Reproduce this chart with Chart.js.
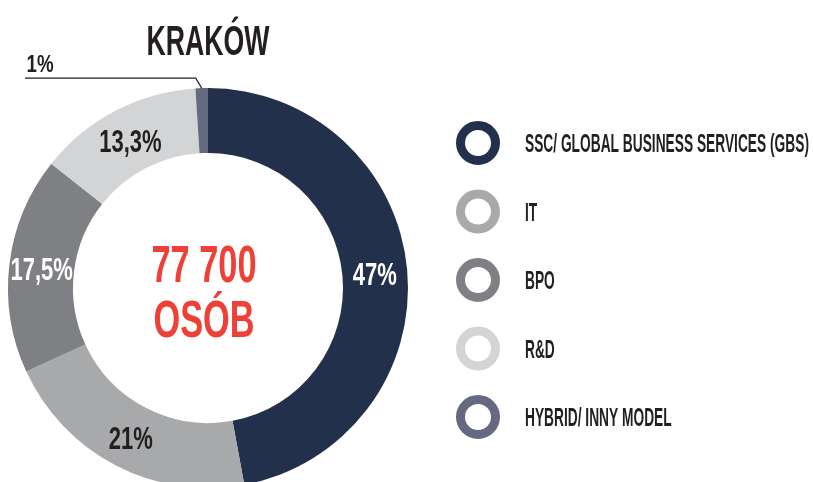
<!DOCTYPE html>
<html>
<head>
<meta charset="utf-8">
<script src="https://cdn.jsdelivr.net/npm/chart.js@4.4.1/dist/chart.umd.min.js"></script>
<style>
  html, body { margin: 0; padding: 0; background: #ffffff; overflow: hidden; }
  #wrap { width: 813px; height: 500px; }
</style>
</head>
<body>
<div id="wrap"><canvas id="c" width="813" height="500"></canvas></div>
<script>
const title = 'KRAKÓW';
const centerLines = ['77 700', 'OSÓB'];
const categories = ['SSC/ GLOBAL BUSINESS SERVICES (GBS)', 'IT', 'BPO', 'R&D', 'HYBRID/ INNY MODEL'];
const shares = [47, 21, 17.5, 13.3, 1];
const shareLabels = ['47%', '21%', '17,5%', '13,3%', '1%'];
const sliceColors = ['#22304c', '#a7a9ab', '#7f8084', '#d3d4d6', '#666a80'];
const labelColors = ['#ffffff', '#231f20', '#ffffff', '#231f20', '#231f20'];

const FONT = "'Liberation Sans Narrow', 'Liberation Sans', sans-serif";
const DARK = '#231f20';
const RED = '#ee4036';

function condText(ctx, text, x, y, size, color, align, sx) {
  ctx.save();
  ctx.font = 'bold ' + size + 'px ' + FONT;
  ctx.fillStyle = color;
  ctx.textAlign = align;
  ctx.textBaseline = 'alphabetic';
  ctx.translate(x, y);
  ctx.scale(sx, 1);
  ctx.fillText(text, 0, 0);
  ctx.restore();
}

const decor = {
  id: 'decor',
  afterDraw(chart) {
    const ctx = chart.ctx;
    const meta = chart.getDatasetMeta(0);
    const arcs = meta.data;
    const cx = arcs[0].x, cy = arcs[0].y;

    // title
    condText(ctx, title, cx, 55, 43, DARK, 'center', 0.62);

    // center text
    condText(ctx, centerLines[0], cx - 4, 282, 52, RED, 'center', 0.66);
    condText(ctx, centerLines[1], cx - 4, 337, 52, RED, 'center', 0.66);

    // slice labels
    arcs.forEach((arc, i) => {
      const p = arc.getProps(['startAngle', 'endAngle', 'innerRadius', 'outerRadius'], true);
      const mid = (p.startAngle + p.endAngle) / 2;
      if (i === arcs.length - 1) {
        // small slice: leader line
        const ox = cx + Math.cos(mid) * p.outerRadius;
        const oy = cy + Math.sin(mid) * p.outerRadius;
        ctx.save();
        ctx.strokeStyle = DARK;
        ctx.lineWidth = 1.2;
        ctx.beginPath();
        ctx.moveTo(ox, oy);
        ctx.lineTo(ox - 6, oy - 10);
        ctx.lineTo(25, oy - 10);
        ctx.stroke();
        ctx.restore();
        condText(ctx, shareLabels[i], 40, 72, 24, labelColors[i], 'center', 0.78);
        return;
      }
      const r = (p.innerRadius + p.outerRadius) / 2;
      const x = cx + Math.cos(mid) * r;
      const y = cy + Math.sin(mid) * r;
      condText(ctx, shareLabels[i], x, y + 12, 31, labelColors[i], 'center', 0.71);
    });

    // legend
    categories.forEach((name, i) => {
      const ly = 143 + i * 68.5;
      ctx.save();
      ctx.beginPath();
      ctx.arc(478, ly, 17.5, 0, Math.PI * 2);
      ctx.strokeStyle = sliceColors[i];
      ctx.lineWidth = 9;
      ctx.stroke();
      ctx.restore();
      condText(ctx, name, 525, ly + 9, 25, DARK, 'left', 0.55);
    });
  }
};

new Chart(document.getElementById('c'), {
  type: 'doughnut',
  data: {
    labels: categories,
    datasets: [{
      data: shares,
      backgroundColor: sliceColors,
      borderWidth: 0,
      hoverOffset: 0
    }]
  },
  options: {
    responsive: false,
    animation: false,
    events: [],
    cutout: '67.5%',
    layout: { padding: { left: 8, top: 88, right: 405, bottom: 12 } },
    plugins: {
      legend: { display: false },
      tooltip: { enabled: false }
    }
  },
  plugins: [decor]
});
</script>
</body>
</html>
